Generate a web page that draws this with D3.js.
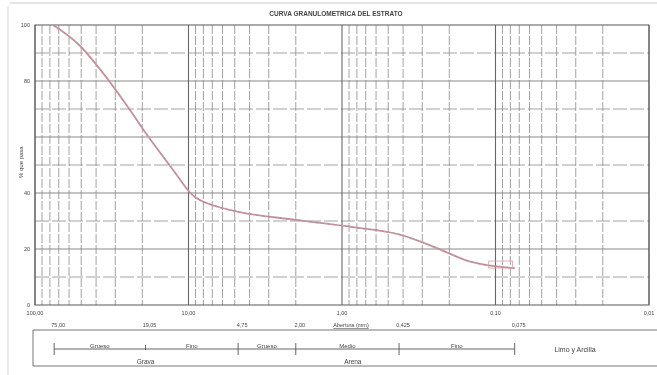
<!DOCTYPE html>
<html><head><meta charset="utf-8">
<script src="https://cdn.jsdelivr.net/npm/d3@7"></script>
<style>
html,body{margin:0;padding:0;background:#fff;}
svg{display:block;filter:blur(0.35px);}
text{font-family:"Liberation Sans",Arial,sans-serif;fill:#444;}
</style></head><body>
<script>
// ---- data ----
const title = "CURVA GRANULOMETRICA DEL ESTRATO";
const yTitle = "% que pasa";
const xTitle = "Abertura (mm)";
const sieveSizes = [76.2, 50.8, 38.1, 25.4, 19.05, 12.7, 9.52, 6.35, 4.75, 2.0, 0.85, 0.425, 0.25, 0.15, 0.075];
const percentPassing = [100, 92.5, 84.5, 71.5, 61.5, 48.5, 39.5, 35, 33.3, 30.4, 27.8, 25.2, 20.7, 15.7, 13.2];
const decadeTicks = [100, 10, 1, 0.1, 0.01];
const decadeLabels = ["100,00", "10,00", "1,00", "0,10", "0,01"];
const sieveTicks = [75, 19.05, 4.75, 2.0, 0.425, 0.075];
const sieveLabels = ["75,00", "19,05", "4,75", "2,00", "0,425", "0,075"];
const yTicks = [0, 20, 40, 80, 100];
const classBounds = [75, 19.05, 4.75, 2.0, 0.425, 0.075];
const subClassNames = ["Grueso", "Fino", "Grueso", "Medio", "Fino"];
const mainClassNames = ["Grava", "Arena"];
const mainClassCenters = [19.05, 0.85];
const fineName = "Limo y Arcilla";

const W = 657, H = 375;
const svg = d3.select("body").append("svg").attr("width", W).attr("height", H);

const x = d3.scaleLog().domain([100, 0.01]).range([35, 649]);
const y = d3.scaleLinear().domain([0, 100]).range([305, 25]);

// page frame lines
svg.append("line").attr("x1", 10).attr("x2", W).attr("y1", 3).attr("y2", 3).attr("stroke", "#ccc").attr("stroke-width", 1.2);
svg.append("line").attr("x1", 8).attr("x2", 8).attr("y1", 6).attr("y2", H).attr("stroke", "#ddd").attr("stroke-width", 1.2);

// title
svg.append("text").attr("x", 336).attr("y", 16).attr("text-anchor", "middle")
  .attr("font-size", 6.5).attr("font-weight", "bold").text(title);

// grid
const g = svg.append("g");
const minor = [];
decadeTicks.slice(1).forEach(d => { for (let k = 2; k <= 9; k++) minor.push(d * k); });
g.selectAll(".vmin").data(minor).enter().append("line")
  .attr("x1", d => x(d)).attr("x2", d => x(d)).attr("y1", y(100)).attr("y2", y(0))
  .attr("stroke", "#8a8a8a").attr("stroke-width", 0.8).attr("stroke-dasharray", "9,2");
g.selectAll(".hgrid").data(d3.range(10, 100, 10)).enter().append("line")
  .attr("x1", x(100)).attr("x2", x(0.01)).attr("y1", d => y(d)).attr("y2", d => y(d))
  .attr("stroke", "#8a8a8a").attr("stroke-width", d => d % 20 === 0 ? 1.1 : 0.8)
  .attr("stroke-dasharray", d => d % 20 === 0 ? null : "14,3");
g.selectAll(".vmaj").data(decadeTicks).enter().append("line")
  .attr("x1", d => x(d)).attr("x2", d => x(d)).attr("y1", y(100)).attr("y2", y(0))
  .attr("stroke", "#666").attr("stroke-width", 1.1);
g.append("rect").attr("x", x(100)).attr("y", y(100)).attr("width", x(0.01) - x(100)).attr("height", y(0) - y(100))
  .attr("fill", "none").attr("stroke", "#666").attr("stroke-width", 1.1);

// y ticks
svg.selectAll(".yl").data(yTicks).enter().append("text")
  .attr("x", 30).attr("y", d => y(d) + 2).attr("text-anchor", "end").attr("font-size", 5.5).text(d => d);
svg.append("text").attr("transform", `translate(23,${y(51)}) rotate(-90)`).attr("text-anchor", "middle")
  .attr("font-size", 6).text(yTitle);

// x ticks
svg.selectAll(".xl").data(decadeTicks).enter().append("text")
  .attr("x", d => x(d)).attr("y", 315).attr("text-anchor", "middle").attr("font-size", 5.5)
  .text((d, i) => decadeLabels[i]);
svg.selectAll(".sl").data(sieveTicks).enter().append("text")
  .attr("x", d => x(d) + 4).attr("y", 327).attr("text-anchor", "middle").attr("font-size", 5.5)
  .text((d, i) => sieveLabels[i]);
svg.append("text").attr("x", 351).attr("y", 327).attr("text-anchor", "middle").attr("font-size", 5.5)
  .attr("text-decoration", "underline").text(xTitle);

// curve
const line = d3.line().x(d => x(d[0])).y(d => y(d[1])).curve(d3.curveMonotoneX);
const pts = sieveSizes.map((s, i) => [s, percentPassing[i]]);
svg.append("path").datum(pts).attr("d", line).attr("fill", "none")
  .attr("stroke", "#c9949f").attr("stroke-width", 1.8);
svg.append("path").datum(pts).attr("d", line).attr("fill", "none")
  .attr("stroke", "#9a8a90").attr("stroke-width", 0.6).attr("stroke-dasharray", "3,3");
const last = pts[pts.length - 1];
svg.append("rect").attr("x", x(last[0]) - 26).attr("y", y(last[1]) - 7).attr("width", 24).attr("height", 7)
  .attr("fill", "none").attr("stroke", "#d9a0aa").attr("stroke-width", 0.8);

// classification box
const cb = svg.append("g");
cb.append("line").attr("x1", 33).attr("x2", W).attr("y1", 330).attr("y2", 330).attr("stroke", "#666").attr("stroke-width", 0.9);
cb.append("line").attr("x1", 33).attr("x2", W).attr("y1", 366).attr("y2", 366).attr("stroke", "#666").attr("stroke-width", 0.9);
cb.append("line").attr("x1", 33).attr("x2", 33).attr("y1", 330).attr("y2", 366).attr("stroke", "#666").attr("stroke-width", 0.9);
cb.append("line").attr("x1", x(classBounds[0])).attr("x2", x(classBounds[classBounds.length - 1]))
  .attr("y1", 349).attr("y2", 349).attr("stroke", "#555").attr("stroke-width", 0.9);
cb.selectAll(".cbt").data(classBounds).enter().append("line")
  .attr("x1", d => x(d)).attr("x2", d => x(d)).attr("y1", (d, i) => (i === 1 ? 345 : 343)).attr("y2", (d, i) => (i === 1 ? 350 : 355))
  .attr("stroke", "#555").attr("stroke-width", 0.9);
cb.selectAll(".sub").data(subClassNames).enter().append("text")
  .attr("x", (d, i) => (x(classBounds[i]) + x(classBounds[i + 1])) / 2).attr("y", 348)
  .attr("text-anchor", "middle").attr("font-size", 6).text(d => d);
cb.selectAll(".main").data(mainClassNames).enter().append("text")
  .attr("x", (d, i) => x(mainClassCenters[i])).attr("y", 364)
  .attr("text-anchor", "middle").attr("font-size", 6.5).text(d => d);
cb.append("text").attr("x", 575).attr("y", 352).attr("text-anchor", "middle").attr("font-size", 7).text(fineName);
</script>
</body></html>
